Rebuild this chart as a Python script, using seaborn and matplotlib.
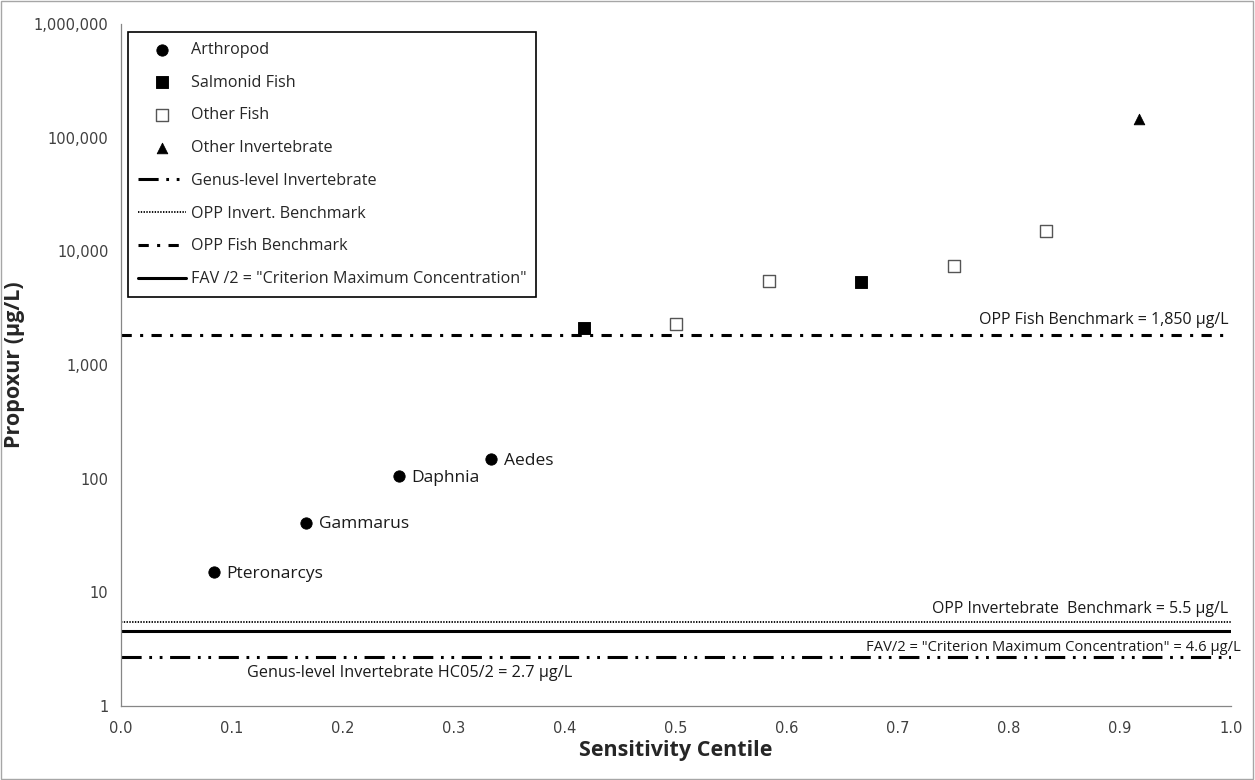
import matplotlib
matplotlib.use("Agg")
import matplotlib.pyplot as plt
import seaborn as sns
import pandas as pd
from matplotlib.patches import Rectangle
from matplotlib.ticker import FuncFormatter, FixedLocator

# ---- data ----
arth_names = ["Pteronarcys", "Gammarus", "Daphnia", "Aedes"]
arth_x = [1/12, 2/12, 3/12, 4/12]
arth_y = [15, 41, 105, 148]

salm_x = [5/12, 8/12]
salm_y = [2100, 5400]

ofish_x = [6/12, 7/12, 9/12, 10/12]
ofish_y = [2300, 5450, 7400, 15000]

oinv_x = [11/12]
oinv_y = [145000]

genus_hc05 = 2.7
opp_invert = 5.5
opp_fish = 1850
fav_half = 4.6

x_ticks = [0.0, 0.1, 0.2, 0.3, 0.4, 0.5, 0.6, 0.7, 0.8, 0.9, 1.0]
y_ticks = [1, 10, 100, 1000, 10000, 100000, 1000000]

sns.set_theme(style="white")
plt.rcParams["lines.scale_dashes"] = False
plt.rcParams["font.family"] = ["DejaVu Sans"]

fig = plt.figure(figsize=(12.55, 7.8), dpi=100)
ax = fig.add_axes([121/1255, 1 - 706/780, (1231-121)/1255, (706-24)/780])

arth = pd.DataFrame({"x": arth_x, "y": arth_y, "name": arth_names})
salm = pd.DataFrame({"x": salm_x, "y": salm_y})
ofish = pd.DataFrame({"x": ofish_x, "y": ofish_y})
oinv = pd.DataFrame({"x": oinv_x, "y": oinv_y})

sns.scatterplot(data=arth, x="x", y="y", marker="o", s=66, color="black",
                edgecolor="black", ax=ax, label="Arthropod", zorder=5)
sns.scatterplot(data=salm, x="x", y="y", marker="s", s=66, color="black",
                edgecolor="black", ax=ax, label="Salmonid Fish", zorder=5)
sns.scatterplot(data=ofish, x="x", y="y", marker="s", s=66, color="white",
                edgecolor="#555555", linewidth=1.0, ax=ax, label="Other Fish", zorder=5)
sns.scatterplot(data=oinv, x="x", y="y", marker="^", s=58, color="black",
                edgecolor="black", ax=ax, label="Other Invertebrate", zorder=5)

ax.axhline(genus_hc05, color="black", lw=2.2, dashes=(14.5, 5.5, 2, 5.5, 2, 5.5),
           dash_capstyle="butt", label="Genus-level Invertebrate")
ax.axhline(opp_invert, color="black", lw=1.3, dashes=(1, 1),
           label="OPP Invert. Benchmark")
ax.axhline(opp_fish, color="black", lw=2.2, dashes=(7.4, 6, 2.2, 6),
           dash_capstyle="butt", label="OPP Fish Benchmark")
ax.axhline(fav_half, color="black", lw=2.2,
           label='FAV /2 = "Criterion Maximum Concentration"')

ax.set_yscale("log")
ax.set_xlim(0, 1)
ax.set_ylim(1, 1e6)
ax.xaxis.set_major_locator(FixedLocator(x_ticks))
ax.yaxis.set_major_locator(FixedLocator(y_ticks))
ax.yaxis.set_minor_locator(FixedLocator([]))
ax.xaxis.set_major_formatter(FuncFormatter(lambda v, p: f"{v:.1f}"))
ax.yaxis.set_major_formatter(FuncFormatter(lambda v, p: f"{int(round(v)):,}"))
ax.tick_params(axis="both", which="major", direction="out", length=5, width=0.8,
               color="#868686", labelsize=10.5, labelcolor="#404040", pad=4)
ax.tick_params(axis="x", length=6, pad=5)

for s in ["top", "right"]:
    ax.spines[s].set_visible(False)
for s in ["left", "bottom"]:
    ax.spines[s].set_color("#868686")
    ax.spines[s].set_linewidth(0.9)

lab_font = ["Open Sans", "DejaVu Sans"]
ax.set_xlabel("Sensitivity Centile", fontsize=15.5, fontweight="bold",
              family=lab_font, labelpad=3)
ax.set_ylabel("Propoxur (\u00b5g/L)", fontsize=15.5, fontweight="bold",
              family=lab_font, labelpad=6)

for _, r in arth.iterrows():
    ax.annotate(r["name"], (r["x"], r["y"]), xytext=(9, -1), textcoords="offset points",
                va="center", ha="left", fontsize=12.5, family=["Open Sans", "DejaVu Sans"],
                color="#1a1a1a")

tf = ["Open Sans", "DejaVu Sans"]
ax.text(0.9975, opp_fish * 1.15, "OPP Fish Benchmark = 1,850 \u00b5g/L", ha="right",
        va="bottom", fontsize=11.5, family=tf, color="#1a1a1a")
ax.text(0.9975, opp_invert * 1.1, "OPP Invertebrate  Benchmark = 5.5 \u00b5g/L", ha="right",
        va="bottom", fontsize=11.4, family=tf, color="#1a1a1a")
ax.text(1.0085, fav_half * 0.82, 'FAV/2 = "Criterion Maximum Concentration" = 4.6 \u00b5g/L',
        ha="right", va="top", fontsize=10.6, family=tf, color="#1a1a1a")
ax.text(0.1135, genus_hc05 * 0.85, "Genus-level Invertebrate HC05/2 = 2.7 \u00b5g/L", ha="left",
        va="top", fontsize=11.7, family=tf, color="#1a1a1a")

handles, labels = ax.get_legend_handles_labels()
order = ["Arthropod", "Salmonid Fish", "Other Fish", "Other Invertebrate",
         "Genus-level Invertebrate", "OPP Invert. Benchmark", "OPP Fish Benchmark",
         'FAV /2 = "Criterion Maximum Concentration"']
hmap = dict(zip(labels, handles))
leg = ax.legend([hmap[k] for k in order], order, loc="upper left",
                bbox_to_anchor=(0.0063, 0.988), borderaxespad=0, frameon=True,
                fancybox=False, edgecolor="black", framealpha=1, handlelength=3.0,
                labelspacing=1.04, borderpad=0.6, handletextpad=0.3,
                prop={"family": ["Open Sans", "DejaVu Sans"], "size": 11.6})
leg.get_frame().set_linewidth(1.2)

fig.patches.append(Rectangle((0.0008, 0.0013), 0.998, 0.997, transform=fig.transFigure,
                             fill=False, edgecolor="#a6a6a6", lw=1.0))

fig.savefig("out.png", dpi=100)
